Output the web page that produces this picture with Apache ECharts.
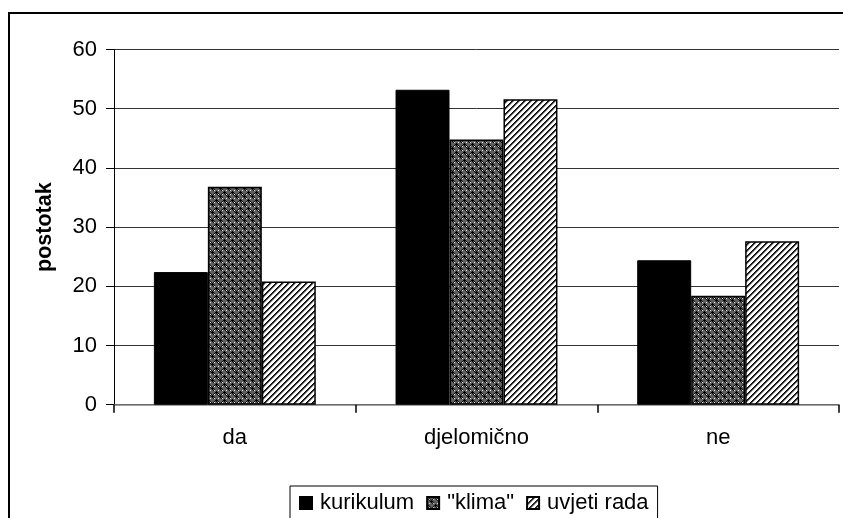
<!DOCTYPE html>
<html>
<head>
<meta charset="utf-8">
<script src="https://cdn.jsdelivr.net/npm/echarts@6/dist/echarts.min.js"></script>
<style>
html,body{margin:0;padding:0;background:#fff;}
#chart{width:843px;height:518px;}
</style>
</head>
<body>
<div id="chart"></div>
<script>
var categories = ['da', 'djelomično', 'ne'];
var seriesNames = ['kurikulum', '"klima"', 'uvjeti rada'];
var kurikulum = [22.4, 53.2, 24.4];
var klima = [36.8, 44.8, 18.4];
var uvjetiRada = [20.8, 51.6, 27.6];
var yTicks = [0, 10, 20, 30, 40, 50, 60];

function makeTile(size, painter) {
  var c = document.createElement('canvas');
  c.width = size; c.height = size;
  var ctx = c.getContext('2d');
  painter(ctx, size);
  return c;
}
function px(ctx, x, y, col) { ctx.fillStyle = col; ctx.fillRect(x, y, 1, 1); }

var klimaTile = makeTile(8, function (ctx, s) {
  ctx.fillStyle = '#5e5e5e'; ctx.fillRect(0, 0, s, s);
  var blk = '#000';
  [[3,4],[4,4],[5,4],[4,3],[4,5]].forEach(function(p){px(ctx,p[0],p[1],blk);});
  [[0,0],[1,0],[7,0],[0,1],[0,7]].forEach(function(p){px(ctx,p[0],p[1],blk);});
  [[2,2],[6,6],[2,6],[6,2]].forEach(function(p){px(ctx,p[0],p[1],'#e8e8e8');});
  [[2,1],[1,2],[6,5],[5,6],[2,3],[3,2],[5,2],[6,1]].forEach(function(p){px(ctx,p[0],p[1],'#111');});
});

var uvjetiTile = makeTile(6, function (ctx, s) {
  ctx.fillStyle = '#fff'; ctx.fillRect(0, 0, s, s);
  for (var x = 0; x < s; x++) {
    for (var y = 0; y < s; y++) {
      var m = (x + y) % 6;
      if (m === 0) px(ctx, x, y, '#000');
      else if (m === 1) px(ctx, x, y, '#333');
      else if (m === 2) px(ctx, x, y, '#a0a0a0');
    }
  }
});

var FONT = 'Liberation Sans, Arial, sans-serif';
var chart = echarts.init(document.getElementById('chart'), null, {renderer: 'canvas'});

var option = {
  backgroundColor: '#fff',
  animation: false,
  graphic: [{
    type: 'rect',
    shape: {x: 9, y: 13, width: 900, height: 600},
    style: {fill: 'none', stroke: '#000', lineWidth: 2},
    silent: true,
    z: 0
  }],
  grid: {left: 114, top: 49.5, right: 4, bottom: 113.3, containLabel: false},
  legend: {
    left: 290,
    top: 486,
    padding: [6, 9, 40, 9],
    borderColor: '#000',
    borderWidth: 1,
    itemWidth: 12,
    itemHeight: 12,
    itemGap: 12,
    icon: 'rect',
    textStyle: {fontFamily: FONT, fontSize: 22, color: '#000', padding: [0, 0, 0, 3]},
    data: seriesNames
  },
  xAxis: {
    type: 'category',
    data: categories,
    axisLine: {show: true, lineStyle: {color: '#808080', width: 1.5}},
    axisTick: {show: true, length: 8, lineStyle: {color: '#000', width: 1.5}},
    axisLabel: {fontFamily: FONT, fontSize: 22, color: '#000', margin: 22},
    splitLine: {show: false}
  },
  yAxis: {
    type: 'value',
    min: yTicks[0],
    max: yTicks[yTicks.length - 1],
    interval: 10,
    name: 'postotak',
    nameLocation: 'middle',
    nameRotate: 90,
    nameGap: 58,
    nameTextStyle: {fontFamily: FONT, fontSize: 21.5, fontWeight: 'bold', color: '#000'},
    axisLine: {show: true, lineStyle: {color: '#000', width: 1}},
    axisTick: {show: true, length: 8, inside: false, lineStyle: {color: '#000', width: 1}},
    axisLabel: {fontFamily: FONT, fontSize: 22, color: '#000', margin: 17},
    splitLine: {show: true, lineStyle: {color: '#333', width: 1}}
  },
  series: [
    {
      name: seriesNames[0], type: 'bar', data: kurikulum,
      barGap: '0%', barCategoryGap: '33%',
      itemStyle: {color: '#000', borderColor: '#000', borderWidth: 1}
    },
    {
      name: seriesNames[1], type: 'bar', data: klima,
      barGap: '0%', barCategoryGap: '33%',
      itemStyle: {color: {image: klimaTile, repeat: 'repeat'}, borderColor: '#000', borderWidth: 1.5}
    },
    {
      name: seriesNames[2], type: 'bar', data: uvjetiRada,
      barGap: '0%', barCategoryGap: '33%',
      itemStyle: {color: {image: uvjetiTile, repeat: 'repeat'}, borderColor: '#000', borderWidth: 1.5}
    }
  ]
};
chart.setOption(option);
</script>
</body>
</html>
